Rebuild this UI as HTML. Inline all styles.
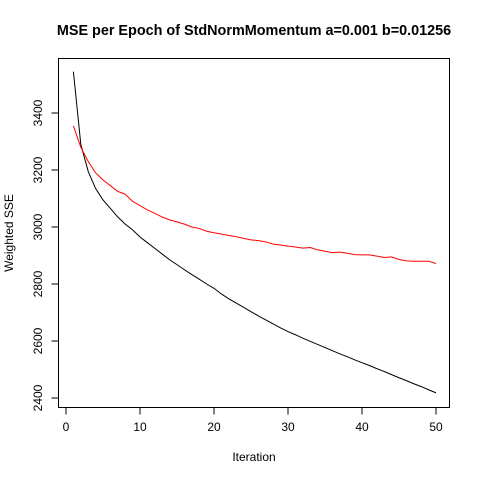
<!DOCTYPE html>
<html><head><meta charset="utf-8"><style>body{margin:0;background:#fff}svg{display:block;font-family:"Liberation Sans",sans-serif}</style></head>
<body>
<svg id="c" width="480" height="480">
<text x="254" y="35" text-anchor="middle" font-size="14.4" font-weight="bold">MSE per Epoch of StdNormMomentum a=0.001 b=0.01256</text>
<rect x="58.5" y="58.5" width="391" height="349" fill="none" stroke="#000"/>
<text x="254" y="461" text-anchor="middle" font-size="12">Iteration</text>
<text transform="translate(13,233) rotate(-90)" text-anchor="middle" font-size="12">Weighted SSE</text>
</svg>
<script>
const xTicks=[0,10,20,30,40,50];
const yTicks=[2400,2600,2800,3000,3200,3400];
const black=[3545,3290,3195,3135,3095,3065,3035,3010,2990,2965,2945,2925,2905,2885,2868,2850,2833,2817,2800,2785,2765,2748,2733,2718,2703,2688,2674,2660,2646,2633,2622,2610,2599,2588,2577,2566,2555,2545,2534,2524,2514,2503,2493,2482,2471,2461,2450,2440,2429,2418];
const red=[3355,3280,3230,3190,3165,3145,3125,3115,3090,3075,3060,3048,3035,3025,3018,3010,3000,2995,2985,2980,2975,2970,2966,2960,2955,2952,2948,2940,2937,2933,2930,2926,2928,2920,2915,2910,2912,2908,2903,2902,2902,2898,2893,2895,2886,2881,2880,2880,2880,2872];
const sx=v=>66+v*7.4, sy=v=>398-(v-2400)*0.285;
const svg=document.getElementById('c'),NS='http://www.w3.org/2000/svg';
function mk(t,a){const e=document.createElementNS(NS,t);for(const k in a)e.setAttribute(k,a[k]);svg.appendChild(e);return e;}
xTicks.forEach(v=>{
const l=mk('line',{x1:sx(v),x2:sx(v),y1:407.5,y2:414.5,stroke:'#000'});


const t=mk('text',{x:sx(v),y:431,'text-anchor':'middle','font-size':12});t.textContent=v;


});
mk('line',{x1:sx(0),x2:sx(50),y1:407.5,y2:407.5,stroke:'#000'});
yTicks.forEach(v=>{
const l=mk('line',{x1:51.5,x2:58.5,y1:sy(v),y2:sy(v),stroke:'#000'});


const t=mk('text',{transform:`translate(42,${sy(v)}) rotate(-90)`,'text-anchor':'middle','font-size':12});t.textContent=v;


});
function line(d,c,n){const p=mk('polyline',{points:d.map((v,i)=>sx(i+1)+','+sy(v)).join(' '),fill:'none',stroke:c,'stroke-width':1});

}
line(black,'#000','black-series-line');
line(red,'#f00','red-series-line');
</script>
</body></html>
